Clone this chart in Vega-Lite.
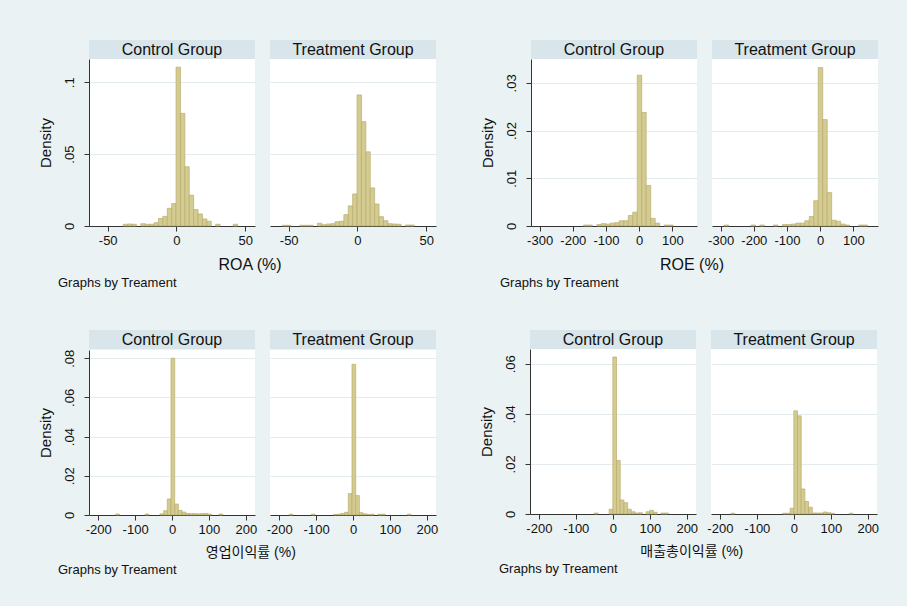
{
  "$schema": "https://vega.github.io/schema/vega-lite/v6.json",
  "background": "#eaf2f3",
  "padding": {"left": 38, "top": 40, "right": 28, "bottom": 33},
  "autosize": {"type": "pad"},
  "config": {
    "view": {"fill": "white", "stroke": null},
    "font": "Liberation Sans",
    "axis": {"labelFont": "Liberation Sans", "titleFont": "Liberation Sans", "labelColor": "#111", "titleColor": "#111", "domainColor": "#333", "tickColor": "#333", "gridColor": "#e3ebef", "labelFontSize": 13, "tickSize": 5, "titleFontWeight": "normal"},
    "title": {"font": "Liberation Sans", "fontWeight": "normal", "color": "#111"}
  },
  "datasets": {
    "bins": [
      {"v":"ROA","g":"C","x0":-38.7,"x1":-35.5,"d":0.0012},
      {"v":"ROA","g":"C","x0":-35.5,"x1":-32.3,"d":0.0014},
      {"v":"ROA","g":"C","x0":-32.3,"x1":-29.1,"d":0.0012},
      {"v":"ROA","g":"C","x0":-25.9,"x1":-22.7,"d":0.0016},
      {"v":"ROA","g":"C","x0":-22.7,"x1":-19.5,"d":0.0012},
      {"v":"ROA","g":"C","x0":-19.5,"x1":-16.3,"d":0.0012},
      {"v":"ROA","g":"C","x0":-16.3,"x1":-13.1,"d":0.0023},
      {"v":"ROA","g":"C","x0":-13.1,"x1":-9.9,"d":0.0053},
      {"v":"ROA","g":"C","x0":-9.9,"x1":-6.7,"d":0.0067},
      {"v":"ROA","g":"C","x0":-6.7,"x1":-3.5,"d":0.0123},
      {"v":"ROA","g":"C","x0":-3.5,"x1":-0.3,"d":0.0156},
      {"v":"ROA","g":"C","x0":-0.3,"x1":2.9,"d":0.1105},
      {"v":"ROA","g":"C","x0":2.9,"x1":6.1,"d":0.0784},
      {"v":"ROA","g":"C","x0":6.1,"x1":9.3,"d":0.0412},
      {"v":"ROA","g":"C","x0":9.3,"x1":12.5,"d":0.0214},
      {"v":"ROA","g":"C","x0":12.5,"x1":15.7,"d":0.0114},
      {"v":"ROA","g":"C","x0":15.7,"x1":18.9,"d":0.0084},
      {"v":"ROA","g":"C","x0":18.9,"x1":22.1,"d":0.0049},
      {"v":"ROA","g":"C","x0":22.1,"x1":25.3,"d":0.0033},
      {"v":"ROA","g":"C","x0":28.5,"x1":31.7,"d":0.0012},
      {"v":"ROA","g":"C","x0":41.3,"x1":44.5,"d":0.0012},

      {"v":"ROA","g":"T","x0":-54.7,"x1":-51.5,"d":0.0005},
      {"v":"ROA","g":"T","x0":-51.5,"x1":-48.3,"d":0.0005},
      {"v":"ROA","g":"T","x0":-41.9,"x1":-38.7,"d":0.0005},
      {"v":"ROA","g":"T","x0":-38.7,"x1":-35.5,"d":0.0005},
      {"v":"ROA","g":"T","x0":-35.5,"x1":-32.3,"d":0.0005},
      {"v":"ROA","g":"T","x0":-29.1,"x1":-25.9,"d":0.0019},
      {"v":"ROA","g":"T","x0":-25.9,"x1":-22.7,"d":0.0009},
      {"v":"ROA","g":"T","x0":-22.7,"x1":-19.5,"d":0.0014},
      {"v":"ROA","g":"T","x0":-19.5,"x1":-16.3,"d":0.0016},
      {"v":"ROA","g":"T","x0":-16.3,"x1":-13.1,"d":0.003},
      {"v":"ROA","g":"T","x0":-13.1,"x1":-9.9,"d":0.0033},
      {"v":"ROA","g":"T","x0":-9.9,"x1":-6.7,"d":0.0079},
      {"v":"ROA","g":"T","x0":-6.7,"x1":-3.5,"d":0.014},
      {"v":"ROA","g":"T","x0":-3.5,"x1":-0.3,"d":0.0223},
      {"v":"ROA","g":"T","x0":-0.3,"x1":2.9,"d":0.0912},
      {"v":"ROA","g":"T","x0":2.9,"x1":6.1,"d":0.0726},
      {"v":"ROA","g":"T","x0":6.1,"x1":9.3,"d":0.0516},
      {"v":"ROA","g":"T","x0":9.3,"x1":12.5,"d":0.0265},
      {"v":"ROA","g":"T","x0":12.5,"x1":15.7,"d":0.0153},
      {"v":"ROA","g":"T","x0":15.7,"x1":18.9,"d":0.0065},
      {"v":"ROA","g":"T","x0":18.9,"x1":22.1,"d":0.0037},
      {"v":"ROA","g":"T","x0":22.1,"x1":25.3,"d":0.0016},
      {"v":"ROA","g":"T","x0":25.3,"x1":28.5,"d":0.0014},
      {"v":"ROA","g":"T","x0":28.5,"x1":31.7,"d":0.0012},
      {"v":"ROA","g":"T","x0":34.9,"x1":38.1,"d":0.0007},
      {"v":"ROA","g":"T","x0":38.1,"x1":41.3,"d":0.0007},

      {"v":"ROE","g":"C","x0":-168,"x1":-154.5,"d":0.0002},
      {"v":"ROE","g":"C","x0":-154.5,"x1":-141,"d":0.0002},
      {"v":"ROE","g":"C","x0":-127.5,"x1":-114,"d":0.0003},
      {"v":"ROE","g":"C","x0":-114,"x1":-100.5,"d":0.0005},
      {"v":"ROE","g":"C","x0":-100.5,"x1":-87,"d":0.0004},
      {"v":"ROE","g":"C","x0":-87,"x1":-73.5,"d":0.0006},
      {"v":"ROE","g":"C","x0":-73.5,"x1":-60,"d":0.0007},
      {"v":"ROE","g":"C","x0":-60,"x1":-46.5,"d":0.0011},
      {"v":"ROE","g":"C","x0":-46.5,"x1":-33,"d":0.0011},
      {"v":"ROE","g":"C","x0":-33,"x1":-19.5,"d":0.0022},
      {"v":"ROE","g":"C","x0":-19.5,"x1":-6,"d":0.0029},
      {"v":"ROE","g":"C","x0":-6,"x1":7.5,"d":0.0316},
      {"v":"ROE","g":"C","x0":7.5,"x1":21,"d":0.0238},
      {"v":"ROE","g":"C","x0":21,"x1":34.5,"d":0.0085},
      {"v":"ROE","g":"C","x0":34.5,"x1":48,"d":0.0016},
      {"v":"ROE","g":"C","x0":48,"x1":61.5,"d":0.0006},
      {"v":"ROE","g":"C","x0":75,"x1":88.5,"d":0.0002},
      {"v":"ROE","g":"C","x0":88.5,"x1":102,"d":0.0002},

      {"v":"ROE","g":"T","x0":-289.5,"x1":-276,"d":0.0002},
      {"v":"ROE","g":"T","x0":-208.5,"x1":-195,"d":0.0002},
      {"v":"ROE","g":"T","x0":-181.5,"x1":-168,"d":0.0002},
      {"v":"ROE","g":"T","x0":-141,"x1":-127.5,"d":0.0002},
      {"v":"ROE","g":"T","x0":-114,"x1":-100.5,"d":0.0003},
      {"v":"ROE","g":"T","x0":-100.5,"x1":-87,"d":0.0003},
      {"v":"ROE","g":"T","x0":-87,"x1":-73.5,"d":0.0004},
      {"v":"ROE","g":"T","x0":-73.5,"x1":-60,"d":0.0006},
      {"v":"ROE","g":"T","x0":-60,"x1":-46.5,"d":0.0006},
      {"v":"ROE","g":"T","x0":-46.5,"x1":-33,"d":0.0011},
      {"v":"ROE","g":"T","x0":-33,"x1":-19.5,"d":0.002},
      {"v":"ROE","g":"T","x0":-19.5,"x1":-6,"d":0.0053},
      {"v":"ROE","g":"T","x0":-6,"x1":7.5,"d":0.0332},
      {"v":"ROE","g":"T","x0":7.5,"x1":21,"d":0.0223},
      {"v":"ROE","g":"T","x0":21,"x1":34.5,"d":0.007},
      {"v":"ROE","g":"T","x0":34.5,"x1":48,"d":0.0012},
      {"v":"ROE","g":"T","x0":48,"x1":61.5,"d":0.001},
      {"v":"ROE","g":"T","x0":61.5,"x1":75,"d":0.0004},
      {"v":"ROE","g":"T","x0":75,"x1":88.5,"d":0.0002},
      {"v":"ROE","g":"T","x0":115.5,"x1":129,"d":0.0002},
      {"v":"ROE","g":"T","x0":129,"x1":142.5,"d":0.0002},

      {"v":"OP","g":"C","x0":-152.7,"x1":-142.7,"d":0.0005},
      {"v":"OP","g":"C","x0":-72.7,"x1":-62.7,"d":0.0005},
      {"v":"OP","g":"C","x0":-32.7,"x1":-22.7,"d":0.0006},
      {"v":"OP","g":"C","x0":-22.7,"x1":-12.7,"d":0.0022},
      {"v":"OP","g":"C","x0":-12.7,"x1":-2.7,"d":0.0082},
      {"v":"OP","g":"C","x0":-2.7,"x1":7.3,"d":0.080},
      {"v":"OP","g":"C","x0":7.3,"x1":17.3,"d":0.0056},
      {"v":"OP","g":"C","x0":17.3,"x1":27.3,"d":0.0024},
      {"v":"OP","g":"C","x0":27.3,"x1":37.3,"d":0.0015},
      {"v":"OP","g":"C","x0":37.3,"x1":47.3,"d":0.0008},
      {"v":"OP","g":"C","x0":47.3,"x1":57.3,"d":0.0007},
      {"v":"OP","g":"C","x0":57.3,"x1":67.3,"d":0.0007},
      {"v":"OP","g":"C","x0":67.3,"x1":77.3,"d":0.0006},
      {"v":"OP","g":"C","x0":77.3,"x1":87.3,"d":0.0007},
      {"v":"OP","g":"C","x0":87.3,"x1":97.3,"d":0.0008},
      {"v":"OP","g":"C","x0":97.3,"x1":107.3,"d":0.0004},
      {"v":"OP","g":"C","x0":127.3,"x1":137.3,"d":0.0005},

      {"v":"OP","g":"T","x0":-172.7,"x1":-162.7,"d":0.0004},
      {"v":"OP","g":"T","x0":-112.7,"x1":-102.7,"d":0.0004},
      {"v":"OP","g":"T","x0":-52.7,"x1":-42.7,"d":0.0003},
      {"v":"OP","g":"T","x0":-42.7,"x1":-32.7,"d":0.0004},
      {"v":"OP","g":"T","x0":-32.7,"x1":-22.7,"d":0.0008},
      {"v":"OP","g":"T","x0":-22.7,"x1":-12.7,"d":0.0014},
      {"v":"OP","g":"T","x0":-12.7,"x1":-2.7,"d":0.0109},
      {"v":"OP","g":"T","x0":-2.7,"x1":7.3,"d":0.0769},
      {"v":"OP","g":"T","x0":7.3,"x1":17.3,"d":0.0099},
      {"v":"OP","g":"T","x0":17.3,"x1":27.3,"d":0.0012},
      {"v":"OP","g":"T","x0":27.3,"x1":37.3,"d":0.0006},
      {"v":"OP","g":"T","x0":37.3,"x1":47.3,"d":0.0003},
      {"v":"OP","g":"T","x0":47.3,"x1":57.3,"d":0.0004},
      {"v":"OP","g":"T","x0":67.3,"x1":77.3,"d":0.0004},
      {"v":"OP","g":"T","x0":77.3,"x1":87.3,"d":0.0004},
      {"v":"OP","g":"T","x0":147.3,"x1":157.3,"d":0.0004},

      {"v":"GP","g":"C","x0":-50,"x1":-40,"d":0.0004},
      {"v":"GP","g":"C","x0":-10,"x1":0,"d":0.0019},
      {"v":"GP","g":"C","x0":0,"x1":10,"d":0.0627},
      {"v":"GP","g":"C","x0":10,"x1":20,"d":0.0214},
      {"v":"GP","g":"C","x0":20,"x1":30,"d":0.0056},
      {"v":"GP","g":"C","x0":30,"x1":40,"d":0.0045},
      {"v":"GP","g":"C","x0":40,"x1":50,"d":0.0019},
      {"v":"GP","g":"C","x0":50,"x1":60,"d":0.0009},
      {"v":"GP","g":"C","x0":60,"x1":70,"d":0.0004},
      {"v":"GP","g":"C","x0":70,"x1":80,"d":0.0005},
      {"v":"GP","g":"C","x0":90,"x1":100,"d":0.0009},
      {"v":"GP","g":"C","x0":100,"x1":110,"d":0.0015},
      {"v":"GP","g":"C","x0":110,"x1":120,"d":0.0007},
      {"v":"GP","g":"C","x0":130,"x1":140,"d":0.0004},
      {"v":"GP","g":"C","x0":140,"x1":150,"d":0.0004},

      {"v":"GP","g":"T","x0":-170,"x1":-160,"d":0.0003},
      {"v":"GP","g":"T","x0":-30,"x1":-20,"d":0.0003},
      {"v":"GP","g":"T","x0":-20,"x1":-10,"d":0.0003},
      {"v":"GP","g":"T","x0":-10,"x1":0,"d":0.0023},
      {"v":"GP","g":"T","x0":0,"x1":10,"d":0.0412},
      {"v":"GP","g":"T","x0":10,"x1":20,"d":0.0392},
      {"v":"GP","g":"T","x0":20,"x1":30,"d":0.010},
      {"v":"GP","g":"T","x0":30,"x1":40,"d":0.005},
      {"v":"GP","g":"T","x0":40,"x1":50,"d":0.0027},
      {"v":"GP","g":"T","x0":50,"x1":60,"d":0.0004},
      {"v":"GP","g":"T","x0":60,"x1":70,"d":0.0004},
      {"v":"GP","g":"T","x0":70,"x1":80,"d":0.0004},
      {"v":"GP","g":"T","x0":80,"x1":90,"d":0.0008},
      {"v":"GP","g":"T","x0":90,"x1":100,"d":0.0005},
      {"v":"GP","g":"T","x0":100,"x1":110,"d":0.0003},
      {"v":"GP","g":"T","x0":150,"x1":160,"d":0.0003}
    ]
  },
  "spacing": 40,
  "vconcat": [
    {
      "spacing": 43,
      "hconcat": [
        {
          "title": {"text": "Graphs by Treament", "orient": "bottom", "anchor": "start", "fontSize": 13, "offset": 4, "dx": 20},
          "vconcat": [
            {
              "title": {"text": "ROA (%)", "orient": "bottom", "anchor": "middle", "fontSize": 16, "offset": 10, "dx": 13},
              "spacing": 0,
              "vconcat": [
                {"bounds": "flush", "spacing": 15, "hconcat": [
                  {"width": 166, "height": 19, "view": {"fill": "#d8e5ea", "stroke": null}, "data": {"values": [{"t": "Control Group"}]}, "mark": {"type": "text", "fontSize": 16, "color": "#111"}, "encoding": {"text": {"field": "t", "type": "nominal"}}},
                  {"width": 166, "height": 19, "view": {"fill": "#d8e5ea", "stroke": null}, "data": {"values": [{"t": "Treatment Group"}]}, "mark": {"type": "text", "fontSize": 16, "color": "#111"}, "encoding": {"text": {"field": "t", "type": "nominal"}}}
                ]},
                {"bounds": "flush", "spacing": 15, "hconcat": [
                  {"width": 166, "height": 167, "data": {"name": "bins"}, "transform": [{"filter": "datum.v == 'ROA' && datum.g == 'C'"}],
                   "mark": {"type": "rect", "fill": "#d3cb90", "stroke": "#b9ae6e", "strokeWidth": 0.7},
                   "encoding": {
                     "x": {"field": "x0", "type": "quantitative", "scale": {"domain": [-63.6, 57.1], "nice": false, "zero": false}, "axis": {"values": [-50, 0, 50], "title": null, "grid": false, "labelPadding": 3, "labelExpr": "toString(datum.value)"}},
                     "x2": {"field": "x1"},
                     "y": {"field": "d", "type": "quantitative", "scale": {"domain": [0, 0.1162], "nice": false}, "axis": {"values": [0, 0.05, 0.1], "title": "Density", "titleFontSize": 15, "titlePadding": 10, "labelAngle": -90, "labelAlign": "center", "labelBaseline": "bottom", "labelPadding": 8, "labelExpr": "datum.value == 0 ? '0' : replace(toString(datum.value), '0.', '.')", "grid": true}},
                     "y2": {"datum": 0}
                   }},
                  {"width": 166, "height": 167, "data": {"name": "bins"}, "transform": [{"filter": "datum.v == 'ROA' && datum.g == 'T'"}],
                   "mark": {"type": "rect", "fill": "#d3cb90", "stroke": "#b9ae6e", "strokeWidth": 0.7},
                   "encoding": {
                     "x": {"field": "x0", "type": "quantitative", "scale": {"domain": [-63.6, 57.1], "nice": false, "zero": false}, "axis": {"values": [-50, 0, 50], "title": null, "grid": false, "labelPadding": 3, "labelExpr": "toString(datum.value)"}},
                     "x2": {"field": "x1"},
                     "y": {"field": "d", "type": "quantitative", "scale": {"domain": [0, 0.1162], "nice": false}, "axis": {"values": [0, 0.05, 0.1], "title": null, "labels": false, "ticks": false, "domain": false, "grid": true, "minExtent": 0}},
                     "y2": {"datum": 0}
                   }}
                ]}
              ]
            }
          ]
        },
        {
          "title": {"text": "Graphs by Treament", "orient": "bottom", "anchor": "start", "fontSize": 13, "offset": 4, "dx": 20},
          "vconcat": [
            {
              "title": {"text": "ROE (%)", "orient": "bottom", "anchor": "middle", "fontSize": 16, "offset": 10, "dx": 13},
              "spacing": 0,
              "vconcat": [
                {"bounds": "flush", "spacing": 15, "hconcat": [
                  {"width": 166, "height": 19, "view": {"fill": "#d8e5ea", "stroke": null}, "data": {"values": [{"t": "Control Group"}]}, "mark": {"type": "text", "fontSize": 16, "color": "#111"}, "encoding": {"text": {"field": "t", "type": "nominal"}}},
                  {"width": 166, "height": 19, "view": {"fill": "#d8e5ea", "stroke": null}, "data": {"values": [{"t": "Treatment Group"}]}, "mark": {"type": "text", "fontSize": 16, "color": "#111"}, "encoding": {"text": {"field": "t", "type": "nominal"}}}
                ]},
                {"bounds": "flush", "spacing": 15, "hconcat": [
                  {"width": 166, "height": 167, "data": {"name": "bins"}, "transform": [{"filter": "datum.v == 'ROE' && datum.g == 'C'"}],
                   "mark": {"type": "rect", "fill": "#d3cb90", "stroke": "#b9ae6e", "strokeWidth": 0.7},
                   "encoding": {
                     "x": {"field": "x0", "type": "quantitative", "scale": {"domain": [-326, 174], "nice": false, "zero": false}, "axis": {"values": [-300, -200, -100, 0, 100], "title": null, "grid": false, "labelPadding": 3, "labelExpr": "toString(datum.value)"}},
                     "x2": {"field": "x1"},
                     "y": {"field": "d", "type": "quantitative", "scale": {"domain": [0, 0.035], "nice": false}, "axis": {"values": [0, 0.01, 0.02, 0.03], "title": "Density", "titleFontSize": 15, "titlePadding": 10, "labelAngle": -90, "labelAlign": "center", "labelBaseline": "bottom", "labelPadding": 8, "labelExpr": "datum.value == 0 ? '0' : replace(toString(datum.value), '0.', '.')", "grid": true}},
                     "y2": {"datum": 0}
                   }},
                  {"width": 166, "height": 167, "data": {"name": "bins"}, "transform": [{"filter": "datum.v == 'ROE' && datum.g == 'T'"}],
                   "mark": {"type": "rect", "fill": "#d3cb90", "stroke": "#b9ae6e", "strokeWidth": 0.7},
                   "encoding": {
                     "x": {"field": "x0", "type": "quantitative", "scale": {"domain": [-326, 174], "nice": false, "zero": false}, "axis": {"values": [-300, -200, -100, 0, 100], "title": null, "grid": false, "labelPadding": 3, "labelExpr": "toString(datum.value)"}},
                     "x2": {"field": "x1"},
                     "y": {"field": "d", "type": "quantitative", "scale": {"domain": [0, 0.035], "nice": false}, "axis": {"values": [0, 0.01, 0.02, 0.03], "title": null, "labels": false, "ticks": false, "domain": false, "grid": true, "minExtent": 0}},
                     "y2": {"datum": 0}
                   }}
                ]}
              ]
            }
          ]
        }
      ]
    },
    {
      "spacing": 41,
      "hconcat": [
        {
          "title": {"text": "Graphs by Treament", "orient": "bottom", "anchor": "start", "fontSize": 13, "offset": 4, "dx": 20},
          "vconcat": [
            {
              "title": {"text": "영업이익률 (%)", "orient": "bottom", "anchor": "middle", "fontSize": 14, "font": "Liberation Sans, Noto Sans CJK KR", "offset": 10, "dx": 13},
              "spacing": 0,
              "vconcat": [
                {"bounds": "flush", "spacing": 15, "hconcat": [
                  {"width": 166, "height": 19, "view": {"fill": "#d8e5ea", "stroke": null}, "data": {"values": [{"t": "Control Group"}]}, "mark": {"type": "text", "fontSize": 16, "color": "#111"}, "encoding": {"text": {"field": "t", "type": "nominal"}}},
                  {"width": 166, "height": 19, "view": {"fill": "#d8e5ea", "stroke": null}, "data": {"values": [{"t": "Treatment Group"}]}, "mark": {"type": "text", "fontSize": 16, "color": "#111"}, "encoding": {"text": {"field": "t", "type": "nominal"}}}
                ]},
                {"bounds": "flush", "spacing": 15, "hconcat": [
                  {"width": 166, "height": 165, "data": {"name": "bins"}, "transform": [{"filter": "datum.v == 'OP' && datum.g == 'C'"}],
                   "mark": {"type": "rect", "fill": "#d3cb90", "stroke": "#b9ae6e", "strokeWidth": 0.7},
                   "encoding": {
                     "x": {"field": "x0", "type": "quantitative", "scale": {"domain": [-225, 225], "nice": false, "zero": false}, "axis": {"values": [-200, -100, 0, 100, 200], "title": null, "grid": false, "labelPadding": 3, "labelExpr": "toString(datum.value)"}},
                     "x2": {"field": "x1"},
                     "y": {"field": "d", "type": "quantitative", "scale": {"domain": [0, 0.0842], "nice": false}, "axis": {"values": [0, 0.02, 0.04, 0.06, 0.08], "title": "Density", "titleFontSize": 15, "titlePadding": 10, "labelAngle": -90, "labelAlign": "center", "labelBaseline": "bottom", "labelPadding": 8, "labelExpr": "datum.value == 0 ? '0' : replace(toString(datum.value), '0.', '.')", "grid": true}},
                     "y2": {"datum": 0}
                   }},
                  {"width": 166, "height": 165, "data": {"name": "bins"}, "transform": [{"filter": "datum.v == 'OP' && datum.g == 'T'"}],
                   "mark": {"type": "rect", "fill": "#d3cb90", "stroke": "#b9ae6e", "strokeWidth": 0.7},
                   "encoding": {
                     "x": {"field": "x0", "type": "quantitative", "scale": {"domain": [-225, 225], "nice": false, "zero": false}, "axis": {"values": [-200, -100, 0, 100, 200], "title": null, "grid": false, "labelPadding": 3, "labelExpr": "toString(datum.value)"}},
                     "x2": {"field": "x1"},
                     "y": {"field": "d", "type": "quantitative", "scale": {"domain": [0, 0.0842], "nice": false}, "axis": {"values": [0, 0.02, 0.04, 0.06, 0.08], "title": null, "labels": false, "ticks": false, "domain": false, "grid": true, "minExtent": 0}},
                     "y2": {"datum": 0}
                   }}
                ]}
              ]
            }
          ]
        },
        {
          "title": {"text": "Graphs by Treament", "orient": "bottom", "anchor": "start", "fontSize": 13, "offset": 4, "dx": 20},
          "vconcat": [
            {
              "title": {"text": "매출총이익률 (%)", "orient": "bottom", "anchor": "middle", "fontSize": 14, "font": "Liberation Sans, Noto Sans CJK KR", "offset": 10, "dx": 13},
              "spacing": 0,
              "vconcat": [
                {"bounds": "flush", "spacing": 15, "hconcat": [
                  {"width": 166, "height": 19, "view": {"fill": "#d8e5ea", "stroke": null}, "data": {"values": [{"t": "Control Group"}]}, "mark": {"type": "text", "fontSize": 16, "color": "#111"}, "encoding": {"text": {"field": "t", "type": "nominal"}}},
                  {"width": 166, "height": 19, "view": {"fill": "#d8e5ea", "stroke": null}, "data": {"values": [{"t": "Treatment Group"}]}, "mark": {"type": "text", "fontSize": 16, "color": "#111"}, "encoding": {"text": {"field": "t", "type": "nominal"}}}
                ]},
                {"bounds": "flush", "spacing": 15, "hconcat": [
                  {"width": 166, "height": 165, "data": {"name": "bins"}, "transform": [{"filter": "datum.v == 'GP' && datum.g == 'C'"}],
                   "mark": {"type": "rect", "fill": "#d3cb90", "stroke": "#b9ae6e", "strokeWidth": 0.7},
                   "encoding": {
                     "x": {"field": "x0", "type": "quantitative", "scale": {"domain": [-224, 225], "nice": false, "zero": false}, "axis": {"values": [-200, -100, 0, 100, 200], "title": null, "grid": false, "labelPadding": 3, "labelExpr": "toString(datum.value)"}},
                     "x2": {"field": "x1"},
                     "y": {"field": "d", "type": "quantitative", "scale": {"domain": [0, 0.0659], "nice": false}, "axis": {"values": [0, 0.02, 0.04, 0.06], "title": "Density", "titleFontSize": 15, "titlePadding": 10, "labelAngle": -90, "labelAlign": "center", "labelBaseline": "bottom", "labelPadding": 8, "labelExpr": "datum.value == 0 ? '0' : replace(toString(datum.value), '0.', '.')", "grid": true}},
                     "y2": {"datum": 0}
                   }},
                  {"width": 166, "height": 165, "data": {"name": "bins"}, "transform": [{"filter": "datum.v == 'GP' && datum.g == 'T'"}],
                   "mark": {"type": "rect", "fill": "#d3cb90", "stroke": "#b9ae6e", "strokeWidth": 0.7},
                   "encoding": {
                     "x": {"field": "x0", "type": "quantitative", "scale": {"domain": [-224, 225], "nice": false, "zero": false}, "axis": {"values": [-200, -100, 0, 100, 200], "title": null, "grid": false, "labelPadding": 3, "labelExpr": "toString(datum.value)"}},
                     "x2": {"field": "x1"},
                     "y": {"field": "d", "type": "quantitative", "scale": {"domain": [0, 0.0659], "nice": false}, "axis": {"values": [0, 0.02, 0.04, 0.06], "title": null, "labels": false, "ticks": false, "domain": false, "grid": true, "minExtent": 0}},
                     "y2": {"datum": 0}
                   }}
                ]}
              ]
            }
          ]
        }
      ]
    }
  ]
}
